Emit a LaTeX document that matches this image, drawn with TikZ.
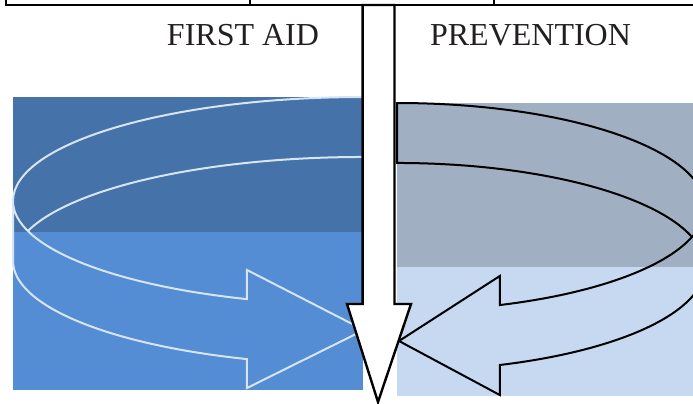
\documentclass[tikz,border=0pt]{standalone}
\usepackage{fontspec}
\setmainfont{Liberation Serif}
\usepackage{xcolor}
\usetikzlibrary{positioning}

\definecolor{darkleft}{RGB}{69,114,169}
\definecolor{lightleft}{RGB}{84,141,212}
\definecolor{darkright}{RGB}{160,175,193}
\definecolor{lightright}{RGB}{198,217,240}
\definecolor{ringline}{RGB}{215,228,243}
\definecolor{labeltext}{RGB}{35,31,32}

\begin{document}
\begin{tikzpicture}[
  x=0.5pt, y=-0.5pt,
  every node/.style={font=\fontsize{16}{19}\selectfont, text=labeltext},
  heading/.style={anchor=base, inner sep=0pt},
  frame/.style={line width=0.8pt},
  ringleft/.style={draw=ringline, line width=1pt, line join=miter},
  ringright/.style={draw=black, line width=1pt, line join=miter},
  downarrow/.style={draw=black, fill=white, line width=1.2pt, line join=miter}
]
\useasboundingbox (0,0) rectangle (693,403);

\fill[darkleft] (13,97) rectangle (363,232);
\fill[lightleft] (13,232) rectangle (363,390);
\fill[darkright] (397,103) rectangle (693,267);
\fill[lightright] (397,267) rectangle (693,396);

\draw[frame] (6,0) -- (6,5) -- (693,5);
\draw[frame] (250,0) -- (250,5);
\draw[frame] (494,0) -- (494,5);

\node[heading] (firstaid) at (243,45) {FIRST AID};
\node[heading] (prevention) at (530.5,45) {PREVENTION};

% left ring arrow
\path[ringleft] (27.85,231) arc[start angle=163.25, end angle=90, x radius=175pt, y radius=52pt]
  -- (363,97) arc[start angle=90, end angle=250.64, x radius=175pt, y radius=52pt]
  -- (247,270) -- (364,330) -- (247,388) -- (247,359.1)
  arc[start angle=250.64, end angle=180, x radius=175pt, y radius=52pt] -- (13,201);

% right ring arrow
\path[ringright] (692,237) arc[start angle=16.75, end angle=90, x radius=154pt, y radius=52pt]
  -- (397,103) arc[start angle=90, end angle=-70.5, x radius=154pt, y radius=52pt]
  -- (499.8,276) -- (399,341) -- (499.8,395) -- (499.8,365)
  arc[start angle=-70.5, end angle=0, x radius=154pt, y radius=52pt] -- (705,207);

\draw[downarrow] (362.7,5) -- (362.7,304) -- (347,304) -- (378,402)
  -- (411,304) -- (394.5,304) -- (394.5,5) -- cycle;
\end{tikzpicture}
\end{document}
